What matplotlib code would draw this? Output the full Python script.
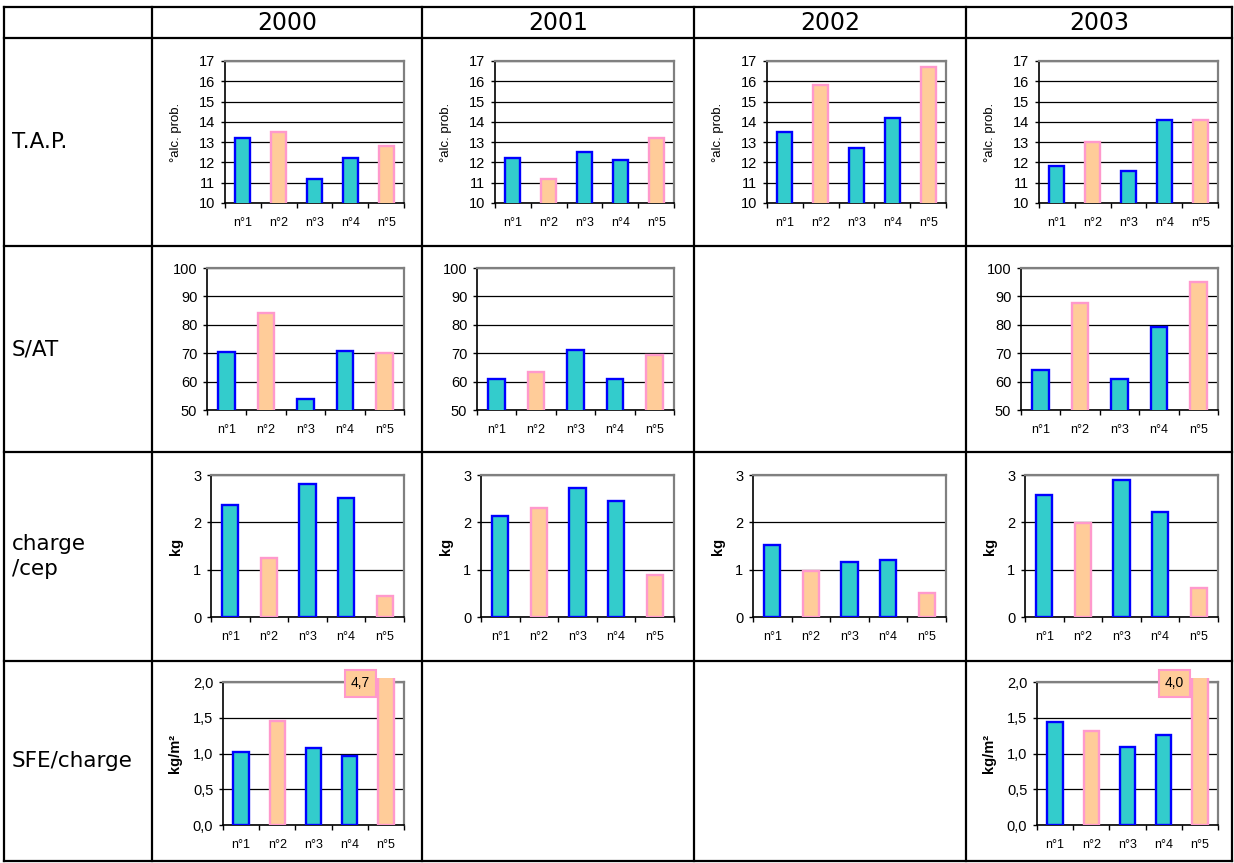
import numpy as np
import matplotlib.pyplot as plt
from matplotlib.transforms import Bbox, TransformedBbox
from matplotlib.ticker import FuncFormatter

W, H = 1234, 863

years = ['2000', '2001', '2002', '2003']
row_names = ['T.A.P.', 'S/AT', 'charge\n/cep', 'SFE/charge']
plots = ['n°1', 'n°2', 'n°3', 'n°4', 'n°5']

# one list per year, None where the measure was not taken
tap = [[13.2, 13.5, 11.2, 12.2, 12.8],
       [12.2, 11.2, 12.5, 12.1, 13.2],
       [13.5, 15.8, 12.7, 14.2, 16.7],
       [11.8, 13.0, 11.6, 14.1, 14.1]]
s_at = [[70.3, 84.3, 54.0, 70.8, 70.0],
        [61.0, 63.3, 71.3, 61.0, 69.5],
        None,
        [64.0, 87.7, 61.0, 79.3, 95.0]]
charge = [[2.37, 1.25, 2.82, 2.52, 0.45],
          [2.13, 2.30, 2.73, 2.45, 0.88],
          [1.53, 0.98, 1.16, 1.20, 0.51],
          [2.58, 1.98, 2.90, 2.22, 0.62]]
sfe = [[1.02, 1.45, 1.07, 0.96, 4.7],
       None,
       None,
       [1.44, 1.32, 1.09, 1.26, 4.0]]

CYAN, BLUE = '#33CCCC', '#0000FF'
PEACH, PINK = '#FFCC99', '#FF99CC'
fill = [CYAN, PEACH, CYAN, CYAN, PEACH]
edge = [BLUE, PINK, BLUE, BLUE, PINK]

# table grid in pixels
col_x = [4, 152, 422, 694, 966, 1232]
row_y = [7, 38, 246, 452, 661, 861]

# per row: data, axes top/bottom (px), left offset in cell, ylim, step,
# ylabel, ylabel x (axes coords), weight, tick format
rows = [
    (tap, 61, 203, 73, (10, 17), 1, '°alc. prob.', -0.24, 'normal', '{:.0f}'),
    (s_at, 268, 410, 55, (50, 100), 10, None, 0, 'normal', '{:.0f}'),
    (charge, 475, 617, 59, (0, 3), 1, 'kg', -0.145, 'bold', '{:.0f}'),
    (sfe, 682, 825, 71, (0, 2), 0.5, 'kg/m²', -0.225, 'bold', '{:.1f}'),
]

fig = plt.figure(figsize=(W / 100, H / 100), dpi=100)
fig.patch.set_facecolor('white')

tbl = fig.add_axes([0, 0, 1, 1])
tbl.set_xlim(0, W)
tbl.set_ylim(H, 0)
tbl.axis('off')
for x in col_x:
    tbl.plot([x, x], [row_y[0], row_y[-1]], color='black', lw=1.6, solid_capstyle='projecting')
for y in row_y:
    tbl.plot([col_x[0], col_x[-1]], [y, y], color='black', lw=1.6, solid_capstyle='projecting')

for j, yr in enumerate(years):
    tbl.text((col_x[j + 1] + col_x[j + 2]) / 2, (row_y[0] + row_y[1]) / 2 + 1, yr,
             ha='center', va='center', fontsize=17, family='DejaVu Sans')
for i, name in enumerate(row_names):
    tbl.text(12, (row_y[i + 1] + row_y[i + 2]) / 2, name,
             ha='left', va='center', fontsize=15.5, family='DejaVu Sans',
             linespacing=1.3)

xs = np.arange(len(plots))

for data, top, bottom, left_off, ylim, step, ylabel, lab_x, weight, fmt in rows:
    for j in range(len(years)):
        vals = data[j]
        if vals is None:
            continue
        left = col_x[j + 1] + left_off
        right = col_x[j + 1] + 252
        ax = fig.add_axes([left / W, 1 - bottom / H, (right - left) / W, (bottom - top) / H])

        bars = ax.bar(xs, vals, width=0.42, color=fill, edgecolor=edge, linewidth=1.7, zorder=3)
        ax.set_xlim(-0.5, len(plots) - 0.5)
        ax.set_ylim(*ylim)
        ax.set_yticks(np.arange(ylim[0], ylim[1] + step / 2, step))
        ax.yaxis.set_major_formatter(FuncFormatter(lambda v, p, f=fmt: f.format(v).replace('.', ',')))
        ax.yaxis.grid(True, color='black', lw=0.9)
        ax.set_axisbelow(True)

        ax.set_xticks(xs)
        ax.set_xticklabels(plots, family='Liberation Sans', fontsize=9)
        ax.set_xticks(np.arange(-0.5, len(plots)), minor=True)
        ax.tick_params(axis='x', which='major', length=0, pad=10)
        ax.tick_params(axis='x', which='minor', length=3.5, width=1, direction='out')
        ax.tick_params(axis='y', length=3, width=1, direction='out', pad=4)
        for lab in ax.get_yticklabels():
            lab.set_family('Liberation Sans')
            lab.set_fontsize(10.5)

        for side in ('left', 'bottom'):
            ax.spines[side].set_color('black')
            ax.spines[side].set_linewidth(1.2)
        for side in ('top', 'right'):
            ax.spines[side].set_color('#808080')
            ax.spines[side].set_linewidth(1.6)

        if ylabel:
            ax.set_ylabel(ylabel, family='Liberation Sans', fontsize=10.5 if weight == 'bold' else 9.5,
                          fontweight=weight)
            ax.yaxis.set_label_coords(lab_x, 0.5)

        # values above the scale: bar runs slightly past the frame, value in a box
        for k, v in enumerate(vals):
            if v > ylim[1]:
                bars[k].set_clip_box(TransformedBbox(Bbox([[0, 0], [1, 1.03]]), ax.transAxes))
                ax.text(0.76, 0.99, f'{v:.1f}'.replace('.', ','), transform=ax.transAxes,
                        ha='center', va='center', fontsize=10, family='Liberation Sans',
                        bbox=dict(boxstyle='square,pad=0.45', fc=PEACH, ec=PINK, lw=1.5),
                        zorder=6, clip_on=False)

fig.savefig('out.png', dpi=100)
